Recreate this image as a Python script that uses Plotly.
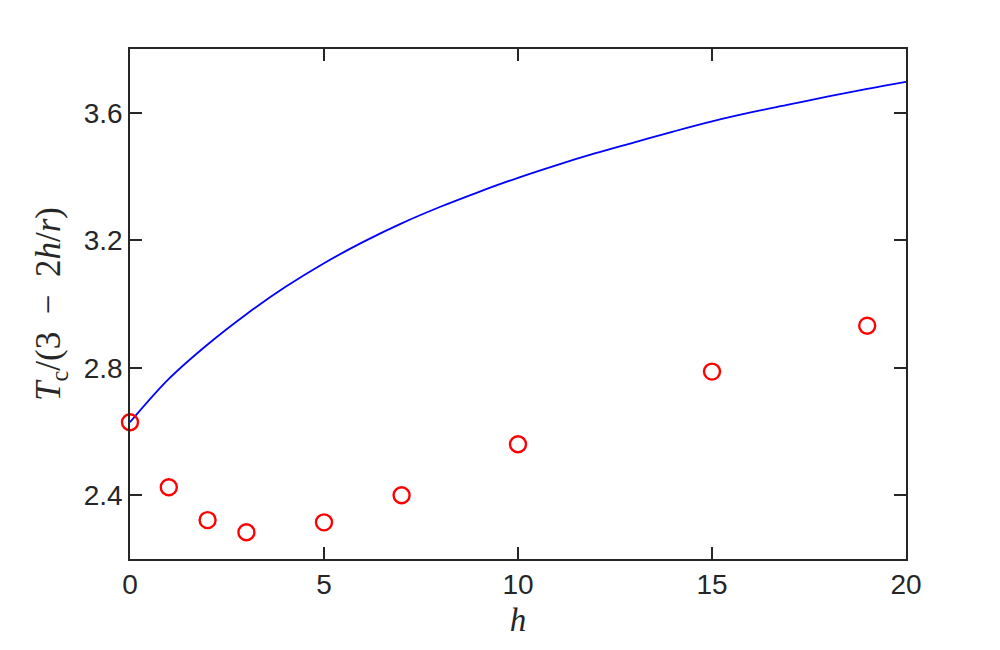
import plotly.graph_objects as go

# Blue curve
curve_h = [0, 1, 2, 3, 4, 5, 6, 7, 8, 9, 10, 11, 12, 13, 14, 15, 16, 17, 18, 19, 20]
curve_t = [2.629, 2.765, 2.873, 2.968, 3.053, 3.128, 3.194, 3.253, 3.305, 3.352, 3.396,
           3.436, 3.473, 3.507, 3.541, 3.573, 3.601, 3.626, 3.651, 3.675, 3.697]

# Red markers
pts_h = [0, 1, 2, 3, 5, 7, 10, 15, 19]
pts_t = [2.629, 2.425, 2.322, 2.284, 2.315, 2.400, 2.560, 2.788, 2.932]

x_ticks = [0, 5, 10, 15, 20]
y_ticks = [2.4, 2.8, 3.2, 3.6]
y_tick_text = ["2.4", "2.8", "3.2", "3.6"]

fig = go.Figure()
fig.add_trace(go.Scatter(x=curve_h, y=curve_t, mode="lines",
                         line=dict(color="#0000ff", width=1.8, shape="spline", smoothing=1.0),
                         showlegend=False))
fig.add_trace(go.Scatter(x=pts_h, y=pts_t, mode="markers",
                         marker=dict(symbol="circle-open", size=16, color="#ff0000",
                                     line=dict(color="#ff0000", width=2.4)),
                         showlegend=False, cliponaxis=False))

axis_common = dict(showgrid=False, zeroline=False, showline=True, mirror="ticks",
                   linecolor="#262626", linewidth=1.5, ticks="inside", ticklen=12,
                   tickwidth=1.5, tickcolor="#262626",
                   tickfont=dict(family="Liberation Sans, Arial, sans-serif", size=28, color="#262626"))

fig.update_xaxes(range=[0, 20], tickvals=x_ticks, ticktext=[str(v) for v in x_ticks],
                 title=dict(text="<i>h</i>", font=dict(family="Liberation Serif, serif", size=33, color="#262626"),
                            standoff=9),
                 **axis_common)
fig.update_yaxes(range=[2.2, 3.8], tickvals=y_ticks, ticktext=y_tick_text,
                 title=dict(text="<i>T</i><sub>c</sub>/(3&nbsp;&nbsp;−&nbsp;&nbsp;2<i>h</i>/<i>r</i>)",
                            font=dict(family="Liberation Serif, serif", size=35, color="#262626"),
                            standoff=12),
                 **axis_common)

fig.update_layout(width=1000, height=650, plot_bgcolor="white", paper_bgcolor="white",
                  margin=dict(l=122, r=102, t=41, b=99))

fig.write_html("out.html")
